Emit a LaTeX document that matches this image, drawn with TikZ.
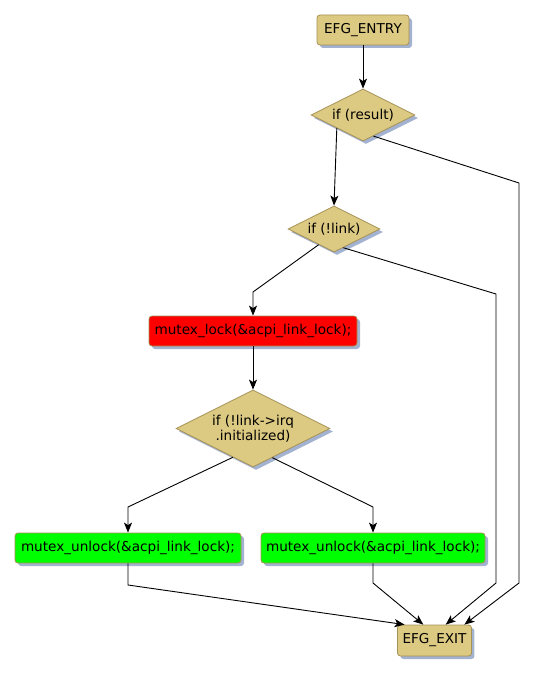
\documentclass[tikz,border=0pt]{standalone}
\usepackage{fontspec}
\setmainfont{DejaVu Sans}
\usetikzlibrary{shapes.geometric,shadows,arrows.meta,calc}
\definecolor{tanc}{RGB}{220,201,130}
\definecolor{bordc}{RGB}{165,145,85}
\definecolor{shadc}{RGB}{163,178,208}
\definecolor{redc}{RGB}{255,0,0}
\definecolor{greenc}{RGB}{0,255,0}
\tikzset{
  every node/.style={font=\fontsize{13.6}{15}\selectfont},
  sh/.style={drop shadow={shadow xshift=3pt,shadow yshift=-3pt,fill=shadc,opacity=1}},
  boxnode/.style={rectangle,rounded corners=3pt,draw=bordc,line width=0.8pt,sh,inner xsep=5pt,inner ysep=0pt,minimum height=30pt},
  dia/.style={diamond,aspect=2,draw=bordc,line width=0.8pt,fill=tanc,sh,inner sep=1pt,align=center},
  conn/.style={line width=0.9pt,black},
  arr/.style={conn,-{Stealth[length=10pt,width=8pt,inset=2.5pt]}},
}
\begin{document}
\begin{tikzpicture}[x=1pt,y=-1pt]
\useasboundingbox (0,0) rectangle (535,674);
\node[boxnode,fill=tanc,minimum width=92pt] (entry) at (363,30) {EFG\_ENTRY};
\node[dia,minimum width=104pt,minimum height=52pt] (res) at (363,115) {if (result)};
\node[dia,minimum width=92pt,minimum height=46pt] (link) at (334,229) {if (!link)};
\node[boxnode,fill=redc,minimum width=208pt] (lock) at (253,331) {mutex\_lock(\&acpi\_link\_lock);};
\node[dia,minimum width=154pt,minimum height=77pt,inner sep=0pt] (irq) at (253,428.5) {if (!link->irq\\.initialized)};
\node[boxnode,fill=greenc,minimum width=226pt] (ul) at (128,548) {mutex\_unlock(\&acpi\_link\_lock);};
\node[boxnode,fill=greenc,minimum width=224pt] (ur) at (373,548) {mutex\_unlock(\&acpi\_link\_lock);};
\node[boxnode,fill=tanc,minimum width=73pt,minimum height=31pt] (exit) at (434.5,640.5) {EFG\_EXIT};

\draw[arr] (entry.south) -- (res.north);
\draw[arr] ($(res.south)!0.5!(res.west)$) -- (link.north);
\draw[arr] ($(res.south)!0.2!(res.east)$) -- (519,183) -- (519,583) -- ($(exit.north)!0.8!(exit.north east)$);
\draw[arr] ($(link.south)!0.33!(link.west)$) -- (253,292) -- (lock.north);
\draw[arr] ($(link.south)!0.2!(link.east)$) -- (496,294) -- (496,583) -- ($(exit.north)!0.3!(exit.north east)$);
\draw[arr] (lock.south) -- (irq.north);
\draw[arr] ($(irq.south)!0.26!(irq.west)$) -- (128,507) -- (ul.north);
\draw[arr] ($(irq.south)!0.25!(irq.east)$) -- (373,507) -- (ur.north);
\draw[arr] (ul.south) -- (128,585) -- ($(exit.north)!0.8!(exit.north west)$);
\draw[arr] (ur.south) -- (373,583) -- ($(exit.north)!0.3!(exit.north west)$);
\end{tikzpicture}
\end{document}
